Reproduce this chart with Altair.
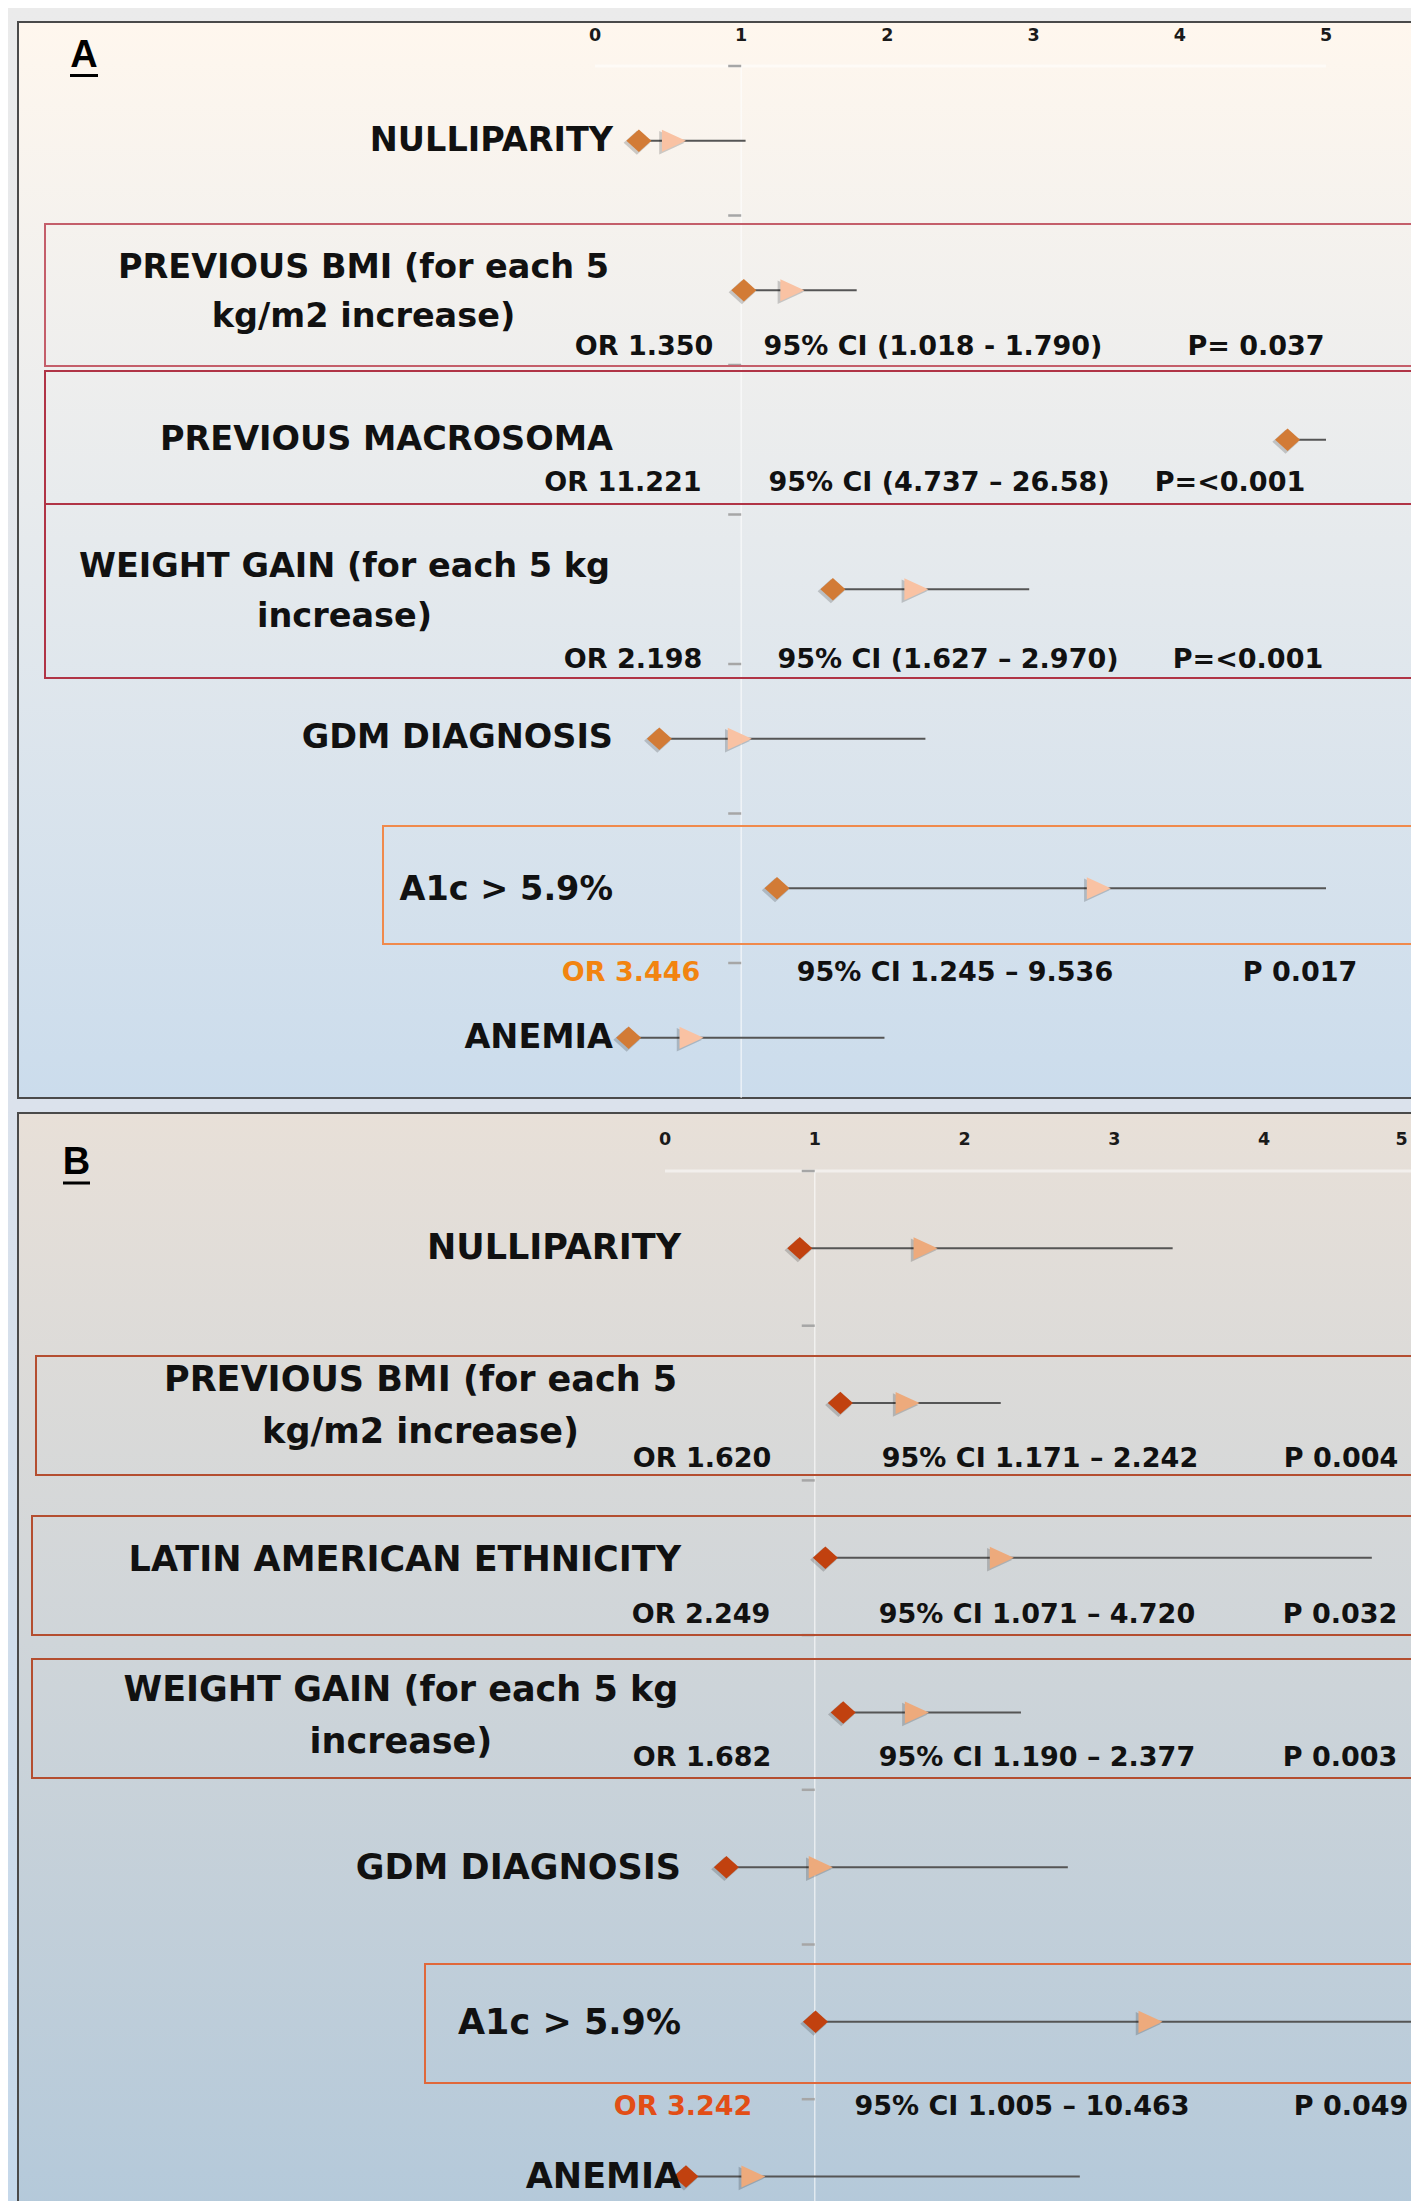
import altair as alt
import pandas as pd

# ---------------- data ----------------
TICKS = [0, 1, 2, 3, 4, 5]
AXIS_MAX = 5

labels_a = [["NULLIPARITY"],
            ["PREVIOUS BMI (for each 5", "kg/m2 increase)"],
            ["PREVIOUS MACROSOMA"],
            ["WEIGHT GAIN (for each 5 kg", "increase)"],
            ["GDM DIAGNOSIS"],
            ["A1c > 5.9%"],
            ["ANEMIA"]]
or_a = [0.54, 1.350, 11.221, 2.198, 0.99, 3.446, 0.66]
lo_a = [0.30, 1.018, 4.737, 1.627, 0.44, 1.245, 0.23]
hi_a = [1.03, 1.790, 26.58, 2.970, 2.26, 9.536, 1.98]
stat_or_a = ["", "OR 1.350", "OR 11.221", "OR 2.198", "", "OR 3.446", ""]
stat_ci_a = ["", "95% CI (1.018 - 1.790)", "95% CI (4.737 \u2013 26.58)",
             "95% CI (1.627 \u2013 2.970)", "", "95% CI 1.245 \u2013 9.536", ""]
stat_p_a = ["", "P= 0.037", "P=<0.001", "P=<0.001", "", "P 0.017", ""]

labels_b = [["NULLIPARITY"],
            ["PREVIOUS BMI (for each 5", "kg/m2 increase)"],
            ["LATIN AMERICAN ETHNICITY"],
            ["WEIGHT GAIN (for each 5 kg", "increase)"],
            ["GDM DIAGNOSIS"],
            ["A1c > 5.9%"],
            ["ANEMIA"]]
or_b = [1.74, 1.620, 2.249, 1.682, 1.04, 3.242, 0.59]
lo_b = [0.90, 1.171, 1.071, 1.190, 0.41, 1.005, 0.14]
hi_b = [3.39, 2.242, 4.720, 2.377, 2.69, 10.463, 2.77]
stat_or_b = ["", "OR 1.620", "OR 2.249", "OR 1.682", "", "OR 3.242", ""]
stat_ci_b = ["", "95% CI 1.171 \u2013 2.242", "95% CI 1.071 \u2013 4.720",
             "95% CI 1.190 \u2013 2.377", "", "95% CI 1.005 \u2013 10.463", ""]
stat_p_b = ["", "P 0.004", "P 0.032", "P 0.003", "", "P 0.049", ""]

# ---------------- layout (page pixels) ----------------
W = 1403
PAGE = 8

LAYOUT_A = dict(
    top=8, H=1097, x0=595, xu=146.2, y0=66, yu=149.5,
    page_grad=("#EBEBEB", "#DBE2EC"),
    panel=(18, 22, 1098), panel_grad=("#FFF7EE", "#CBDCEC"),
    tick_label_y=36,
    letter="A", letter_xy=(84, 56), underline=(70, 98, 75.5),
    label_right=613, label_size=33.5, stat_size=27,
    multi_center={1: 363.5, 3: 344.5},
    label_y={0: [141], 1: [268, 317], 2: [440], 3: [567, 617], 4: [738], 5: [890], 6: [1038]},
    stats_y={1: 347, 2: 483, 3: 660, 5: 973},
    stats_x={1: (644, 933, 1256), 2: (623, 939, 1230), 3: (633, 948, 1248), 5: (631, 955, 1300)},
    or_color={5: "#F28410"},
    boxes=[(45, 224, 366, "#C45E6A"), (45, 371, 504, "#B03446"),
           (45, 504, 678, "#B03446"), (383, 826, 944, "#F08A4C")],
    ref_bottom=1098,
    diamond="#D27B36", triangle="#F9C2A3",
)

LAYOUT_B = dict(
    top=1105, H=1096, x0=665, xu=149.75, y0=1171, yu=154.7,
    page_grad=("#DBE2EC", "#C5D8EA"),
    panel=(18, 1113, 2215), panel_grad=("#E8E0D8", "#B4C9DA"),
    tick_label_y=1140,
    letter="B", letter_xy=(76.5, 1163), underline=(63, 90, 1183),
    label_right=681, label_size=35, stat_size=27,
    multi_center={1: 420.6, 3: 400.9},
    label_y={0: [1248], 1: [1380, 1432], 2: [1560], 3: [1690, 1742], 4: [1868], 5: [2023], 6: [2177]},
    stats_y={1: 1459, 2: 1615, 3: 1758, 5: 2107},
    stats_x={1: (702, 1040, 1341), 2: (701, 1037, 1340), 3: (702, 1037, 1340), 5: (683, 1022, 1351)},
    or_color={5: "#E24E16"},
    boxes=[(36, 1356, 1475, "#B44E30"), (32, 1516, 1635, "#B44E30"),
           (32, 1659, 1778, "#B44E30"), (425, 1964, 2083, "#E0683A")],
    ref_bottom=2215,
    diamond="#C1410F", triangle="#EDAA7C",
)

LABEL_FONT = "DejaVu Sans"
DIAMOND = "M-1,0L0,-0.9L1,0L0,0.9Z"
TRIANGLE = "M-1,-0.92L1,0L-1,0.92Z"


def grad(c1, c2):
    return {"gradient": "linear", "x1": 0, "y1": 0, "x2": 0, "y2": 1,
            "stops": [{"offset": 0, "color": c1}, {"offset": 1, "color": c2}]}


def make_panel(L, labels, ors, los, his, s_or, s_ci, s_p):
    vx = lambda px: (px - L["x0"]) / L["xu"]
    vy = lambda py: (py - L["y0"]) / L["yu"]
    H = L["H"]
    xs = alt.Scale(domain=[vx(PAGE), vx(PAGE + W)], nice=False, zero=False)
    ys = alt.Scale(domain=[vy(L["top"]), vy(L["top"] + H)], nice=False, zero=False, reverse=True)

    def X(f):
        return alt.X(f, type="quantitative", scale=xs, axis=None)

    def Y(f):
        return alt.Y(f, type="quantitative", scale=ys, axis=None)

    one = pd.DataFrame({"a": [0]})
    layers = []

    # page background
    layers.append(alt.Chart(one).mark_rect(fill=grad(*L["page_grad"])).encode(
        x=alt.value(0), x2=alt.value(W), y=alt.value(0), y2=alt.value(H)))

    # panel background with border
    px_, ptop, pbot = L["panel"]
    right = PAGE + W + 4
    pan = pd.DataFrame({"x": [vx(px_)], "x2": [vx(right)], "y": [vy(ptop)], "y2": [vy(pbot)]})
    layers.append(alt.Chart(pan).mark_rect(fill=grad(*L["panel_grad"]), stroke="#4A4A4A",
                                           strokeWidth=2, clip=True).encode(
        x=X("x"), x2="x2", y=Y("y"), y2="y2"))

    # tick labels of the value axis (labels too close to the right edge are flushed)
    tl = pd.DataFrame({"v": TICKS})
    tl["y"] = vy(L["tick_label_y"])
    edge = vx(PAGE + W - 8)
    tick_style = dict(baseline="middle", font="DejaVu Sans", fontWeight="bold",
                      fontSize=17.5, color="#1a1a1a")
    layers.append(alt.Chart(tl[tl["v"] <= edge]).mark_text(align="center", **tick_style).encode(
        x=X("v"), y=Y("y"), text=alt.Text("v:Q", format="d")))
    if (tl["v"] > edge).any():
        layers.append(alt.Chart(tl[tl["v"] > edge]).mark_text(
            align="right", dx=-6, **tick_style).encode(
            x=X("v"), y=Y("y"), text=alt.Text("v:Q", format="d")))

    # horizontal axis line (faint) and x=1 reference line
    hl = pd.DataFrame({"x": [0], "x2": [AXIS_MAX], "y": [0]})
    layers.append(alt.Chart(hl).mark_rule(color="#FFFFFF", opacity=0.5, strokeWidth=3,
                                          clip=True).encode(
        x=X("x"), x2="x2", y=Y("y")))
    vl = pd.DataFrame({"x": [1], "y": [0], "y2": [vy(L["ref_bottom"])]})
    layers.append(alt.Chart(vl).mark_rule(color="#FFFFFF", opacity=0.6, strokeWidth=1.5,
                                          clip=True).encode(
        x=X("x"), y=Y("y"), y2="y2"))

    # small category ticks left of the x=1 line
    tk = pd.DataFrame({"y": list(range(len(labels)))})
    tk["x"] = 1 - 13 / L["xu"]
    tk["x2"] = 1
    layers.append(alt.Chart(tk).mark_rule(color="#A6A6A6", strokeWidth=2.5).encode(
        x=X("x"), x2="x2", y=Y("y")))

    # row boxes
    bx = pd.DataFrame([{"x": vx(b[0]), "x2": vx(right), "y": vy(b[1]), "y2": vy(b[2]), "c": b[3]}
                       for b in L["boxes"]])
    layers.append(alt.Chart(bx).mark_rect(fillOpacity=0, strokeWidth=2, clip=True).encode(
        x=X("x"), x2="x2", y=Y("y"), y2="y2", stroke=alt.Stroke("c:N", scale=None)))

    # data
    df = pd.DataFrame({"row": list(range(len(labels))), "or_": ors, "lo": los, "hi": his})
    df["yc"] = df["row"] + 0.5
    base = alt.Chart(df).transform_calculate(hic=f"min(datum.hi, {AXIS_MAX})")
    tri = base.transform_filter(f"datum.or_ <= {AXIS_MAX}")
    layers.append(base.mark_rule(color="#555555", strokeWidth=2, clip=True).encode(
        x=X("lo"), x2="hic:Q", y=Y("yc")))
    # soft shadows under the markers
    layers.append(base.mark_point(shape=DIAMOND, filled=True, size=700, opacity=0.18,
                                  color="#000000", xOffset=-2, yOffset=2, clip=True).encode(
        x=X("lo"), y=Y("yc")))
    layers.append(tri.mark_point(shape=TRIANGLE, filled=True, size=650, opacity=0.18,
                                 color="#000000", xOffset=-2, yOffset=2, clip=True).encode(
        x=X("or_"), y=Y("yc")))
    layers.append(base.mark_point(shape=DIAMOND, filled=True, size=625, opacity=1,
                                  color=L["diamond"], clip=True).encode(x=X("lo"), y=Y("yc")))
    layers.append(tri.mark_point(shape=TRIANGLE, filled=True, size=576, opacity=1,
                                 color=L["triangle"], clip=True).encode(x=X("or_"), y=Y("yc")))

    # row labels
    single, multi = [], []
    for i, lines in enumerate(labels):
        ys_ = L["label_y"][i]
        if len(lines) == 1:
            single.append({"t": lines[0], "x": vx(L["label_right"]), "y": vy(ys_[0])})
        else:
            for ln, yy in zip(lines, ys_):
                multi.append({"t": ln, "x": vx(L["multi_center"][i]), "y": vy(yy)})
    layers.append(alt.Chart(pd.DataFrame(single)).mark_text(
        align="right", baseline="middle", font=LABEL_FONT, fontWeight="bold",
        fontSize=L["label_size"], color="#111111").encode(x=X("x"), y=Y("y"), text="t:N"))
    layers.append(alt.Chart(pd.DataFrame(multi)).mark_text(
        align="center", baseline="middle", font=LABEL_FONT, fontWeight="bold",
        fontSize=L["label_size"], color="#111111").encode(x=X("x"), y=Y("y"), text="t:N"))

    # statistics
    st = []
    for i in range(len(labels)):
        if not s_or[i]:
            continue
        xo, xc, xp = L["stats_x"][i]
        yy = vy(L["stats_y"][i])
        st.append({"t": s_or[i], "x": vx(xo), "y": yy, "c": L["or_color"].get(i, "#111111")})
        st.append({"t": s_ci[i], "x": vx(xc), "y": yy, "c": "#111111"})
        st.append({"t": s_p[i], "x": vx(xp), "y": yy, "c": "#111111"})
    layers.append(alt.Chart(pd.DataFrame(st)).mark_text(
        align="center", baseline="middle", font=LABEL_FONT, fontWeight="bold",
        fontSize=L["stat_size"], clip=True).encode(
        x=X("x"), y=Y("y"), text="t:N", color=alt.Color("c:N", scale=None)))

    # panel letter with underline
    lx, ly = L["letter_xy"]
    let = pd.DataFrame({"t": [L["letter"]], "x": [vx(lx)], "y": [vy(ly)]})
    layers.append(alt.Chart(let).mark_text(
        align="center", baseline="middle", font="Liberation Sans", fontWeight="bold",
        fontSize=38, color="#000000").encode(x=X("x"), y=Y("y"), text="t:N"))
    ux1, ux2, uy = L["underline"]
    ul = pd.DataFrame({"x": [vx(ux1)], "x2": [vx(ux2)], "y": [vy(uy)]})
    layers.append(alt.Chart(ul).mark_rule(color="#000000", strokeWidth=3).encode(
        x=X("x"), x2="x2", y=Y("y")))

    return alt.layer(*layers).properties(width=W, height=H)


panel_a = make_panel(LAYOUT_A, labels_a, or_a, lo_a, hi_a, stat_or_a, stat_ci_a, stat_p_a)
panel_b = make_panel(LAYOUT_B, labels_b, or_b, lo_b, hi_b, stat_or_b, stat_ci_b, stat_p_b)

chart = alt.vconcat(panel_a, panel_b, spacing=0).resolve_scale(
    x="independent", y="independent").properties(
    padding=0, background="#FFFFFF"
).configure_view(stroke=None)

chart.save("out.html", embed_options={"renderer": "svg", "actions": False})
